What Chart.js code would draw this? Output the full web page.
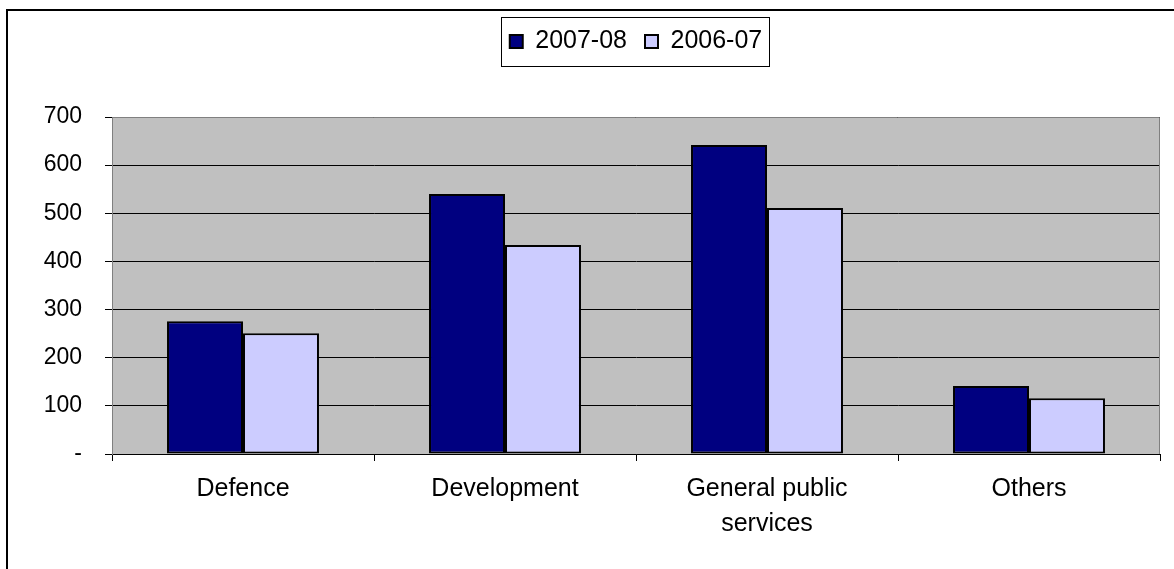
<!DOCTYPE html>
<html>
<head>
<meta charset="utf-8">
<script src="https://cdn.jsdelivr.net/npm/chart.js@4"></script>
<style>
  html, body { margin: 0; padding: 0; background: #fff; overflow: hidden; }
  #frame { position: absolute; left: 6px; top: 9px; width: 1300px; height: 700px;
           border-left: 2px solid #000; border-top: 2px solid #000; }
  #wrap { position: absolute; left: 0; top: 0; width: 1174px; height: 569px; }
</style>
</head>
<body>
<div id="frame"></div>
<div id="wrap"><canvas id="chart"></canvas></div>
<script>
const categories = ["Defence", "Development", ["General public", "services"], "Others"];
const seriesNames = ["2007-08", "2006-07"];
const values0708 = [276, 540, 642, 141];
const values0607 = [251, 434, 511, 116];
const yTicks = [0, 100, 200, 300, 400, 500, 600, 700];

const FONT = "'Liberation Sans', Arial, sans-serif";

// grey plot background plus the grey top/right edges
const plotBackground = {
    id: "plotBackground",
    beforeDraw(chart) {
        const { ctx, chartArea: a } = chart;
        ctx.save();
        ctx.fillStyle = "#c0c0c0";
        ctx.fillRect(a.left, a.top, a.right - a.left, a.bottom - a.top);
        ctx.restore();
    },
    afterDatasetsDraw(chart) {
        const { ctx, chartArea: a } = chart;
        ctx.save();
        ctx.strokeStyle = "#808080";
        ctx.lineWidth = 1;
        ctx.beginPath();
        ctx.moveTo(a.left, a.top + 0.5);
        ctx.lineTo(a.right - 0.5, a.top + 0.5);
        ctx.lineTo(a.right - 0.5, a.bottom);
        ctx.stroke();
        ctx.restore();
    },
};

// legend takes more room below it, so the plot starts lower
const legendSpace = {
    id: "legendSpace",
    beforeInit(chart) {
        const legend = chart.legend;
        if (!legend) {
            return;
        }
        const fit = legend.fit;
        legend.fit = function () {
            fit.call(this);
            this.height += 53;
        };
    },
};

// box round the legend items
const legendFrame = {
    id: "legendFrame",
    afterDraw(chart) {
        const boxes = chart.legend && chart.legend.legendHitBoxes;
        if (!boxes || !boxes.length) {
            return;
        }
        const left = Math.min(...boxes.map((b) => b.left));
        const right = Math.max(...boxes.map((b) => b.left + b.width));
        const top = Math.min(...boxes.map((b) => b.top));
        const bottom = Math.max(...boxes.map((b) => b.top + b.height));
        const { ctx } = chart;
        ctx.save();
        ctx.strokeStyle = "#000";
        ctx.lineWidth = 1;
        ctx.strokeRect(Math.round(left - 9) + 0.5, Math.round(top - 12) + 0.5,
            Math.round(right - left + 16), Math.round(bottom - top + 24));
        ctx.restore();
    },
};

new Chart(document.getElementById("chart"), {
    type: "bar",
    data: {
        labels: categories,
        datasets: [
            {
                label: seriesNames[0],
                data: values0708,
                backgroundColor: "#000080",
                borderColor: "#000",
                borderWidth: 2,
                borderSkipped: false,
            },
            {
                label: seriesNames[1],
                data: values0607,
                backgroundColor: "#ccccff",
                borderColor: "#000",
                borderWidth: 2,
                borderSkipped: false,
            },
        ],
    },
    options: {
        responsive: true,
        maintainAspectRatio: false,
        animation: false,
        layout: { padding: { top: 11, right: 14, left: 0, bottom: 0 } },
        datasets: { bar: { barPercentage: 1, categoryPercentage: 0.58 } },
        plugins: {
            tooltip: { enabled: false },
            legend: {
                display: true,
                position: "top",
                fullSize: false,
                labels: {
                    font: { family: FONT, size: 25 },
                    color: "#000",
                    boxWidth: 13,
                    boxHeight: 13,
                    padding: 18,
                },
            },
        },
        scales: {
            x: {
                grid: {
                    offset: true,
                    drawOnChartArea: false,
                    drawTicks: true,
                    tickLength: 7,
                    color: "#000",
                },
                border: { color: "#000", width: 1 },
                ticks: {
                    color: "#000",
                    font: { family: FONT, size: 25, lineHeight: 1.4 },
                    padding: 11,
                    maxRotation: 0,
                    autoSkip: false,
                },
                afterFit(scale) {
                    scale.height = 115;
                },
            },
            y: {
                min: 0,
                max: 700,
                afterBuildTicks(scale) {
                    scale.ticks = yTicks.map((v) => ({ value: v }));
                },
                grid: {
                    color: "#000",
                    tickLength: 7,
                },
                border: { color: "#808080", width: 1 },
                ticks: {
                    color: "#000",
                    font: { family: FONT, size: 23 },
                    padding: 23,
                    callback: (v) => (v === 0 ? "-" : v),
                },
                afterFit(scale) {
                    scale.width = 112;
                },
            },
        },
    },
    plugins: [plotBackground, legendSpace, legendFrame],
});
</script>
</body>
</html>
